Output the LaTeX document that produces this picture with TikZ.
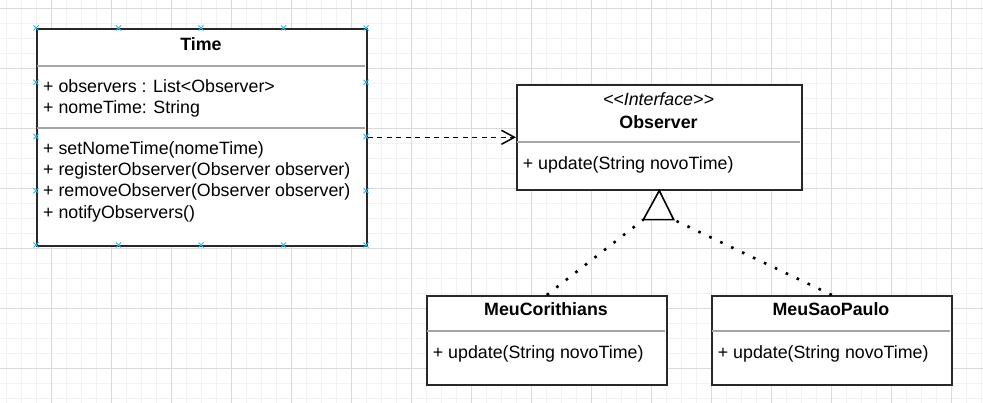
\documentclass[tikz,border=0pt]{standalone}
\usepackage{fontspec}
\setmainfont{Liberation Sans}
\usetikzlibrary{arrows.meta}
\definecolor{gridmajor}{RGB}{218,218,218}
\definecolor{gridminor}{RGB}{242,242,242}
\definecolor{handle}{RGB}{41,182,242}
\definecolor{boxline}{RGB}{40,40,40}
\definecolor{sepline}{RGB}{165,165,165}
\begin{document}
\begin{tikzpicture}[x=1pt,y=-1pt,
  umlbox/.style={draw=boxline, line width=1.6pt, fill=white, inner sep=0pt, anchor=north west},
  txt/.style={inner sep=0pt, anchor=base west, font=\fontsize{17.8}{21}\selectfont},
  ttl/.style={inner sep=0pt, anchor=base, font=\fontsize{17.8}{21}\selectfont\bfseries},
  itl/.style={inner sep=0pt, anchor=base, font=\fontsize{17.8}{21}\selectfont\itshape},
  sep/.style={draw=sepline, line width=1.3pt},
  dashedarrow/.style={draw=black, line width=1.5pt, dash pattern=on 5pt off 4.5pt,
    -{Straight Barb[length=13pt,width=14pt,line width=1.5pt]}},
  dotline/.style={draw=black, line width=2.6pt, dash pattern=on 2.6pt off 9.5pt},
  tri/.style={draw=black, line width=1.6pt, fill=white, line join=miter},
  handlemark/.style={draw=handle, line width=1pt}
]
\useasboundingbox (0,0) rectangle (983,403);
\fill[white] (0,0) rectangle (983,403);
% grid
\foreach \i in {0,...,65} \draw[gridminor, line width=1pt] ({6.5+15*\i},0) -- ({6.5+15*\i},403);
\foreach \i in {0,...,26} \draw[gridminor, line width=1pt] (0,{8.3+15*\i}) -- (983,{8.3+15*\i});
\foreach \i in {0,...,15} \draw[gridmajor, line width=1pt] ({51.5+60*\i},0) -- ({51.5+60*\i},403);
\foreach \i in {0,...,6} \draw[gridmajor, line width=1pt] (0,{8.3+60*\i}) -- (983,{8.3+60*\i});

% Time class
\node[umlbox, minimum width=330pt, minimum height=217pt] (time) at (36,28) {};
\draw[sep] (37,66) -- (365,66);
\draw[sep] (37,128) -- (365,128);
\node[ttl] (timeT) at (201,50.7) {Time};
\node[txt] (a1) at (43,92.3) {+ observers : List<Observer>};
\node[txt] (a2) at (43,113.3) {+ nomeTime: String};
\node[txt] (m1) at (43,154.3) {+ setNomeTime(nomeTime)};
\node[txt] (m2) at (43,175.6) {+ registerObserver(Observer observer)};
\node[txt] (m3) at (43,196.9) {+ removeObserver(Observer observer)};
\node[txt] (m4) at (43,218.2) {+ notifyObservers()};

% Observer interface
\node[umlbox, minimum width=285pt, minimum height=105pt] (obs) at (516,84) {};
\draw[sep] (517,142) -- (800,142);
\node[itl] (obsS) at (658.5,106) {<\kern0pt<Interface>\kern0pt>};
\node[ttl] (obsT) at (658.5,128.3) {Observer};
\node[txt] (obsM) at (522.7,170) {+ update(String novoTime)};

% MeuCorithians
\node[umlbox, minimum width=240pt, minimum height=89pt] (mc) at (426,295) {};
\draw[sep] (427,331) -- (665,331);
\node[ttl] (mcT) at (546,316) {MeuCorithians};
\node[txt] (mcM) at (432.7,358.3) {+ update(String novoTime)};

% MeuSaoPaulo
\node[umlbox, minimum width=240pt, minimum height=89pt] (ms) at (711,295) {};
\draw[sep] (712,331) -- (950,331);
\node[ttl] (msT) at (831,316) {MeuSaoPaulo};
\node[txt] (msM) at (717.7,358.3) {+ update(String novoTime)};

% dependency arrow
\draw[dashedarrow] (time.east) -- (obs.west);

% realization
\coordinate (tl) at (643.3,219.7);
\coordinate (tr) at (673.7,219.7);
\draw[dotline] (mc.north) -- (tl);
\draw[dotline] (ms.north) -- (tr);
\draw[tri] (obs.south) -- (tl) -- (tr) -- cycle;

% selection handles
\foreach \p in {(36,28),(118.5,28),(201,28),(283.5,28),(366,28),
                (36,245),(118.5,245),(201,245),(283.5,245),(366,245),
                (36,82.25),(36,136.5),(36,190.75),
                (366,82.25),(366,136.5),(366,190.75)}
  \draw[handlemark] \p ++(-2.5,-2.5) -- ++(5,5) ++(0,-5) -- ++(-5,5);
\end{tikzpicture}
\end{document}
